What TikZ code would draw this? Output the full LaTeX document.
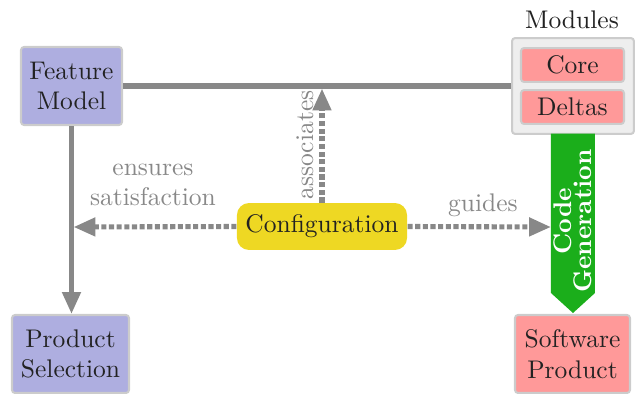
\documentclass[tikz,border=0pt]{standalone}
\usetikzlibrary{arrows.meta}
\definecolor{lav}{HTML}{AEAEE0}
\definecolor{pinkbox}{HTML}{FF9999}
\definecolor{yel}{HTML}{EED823}
\definecolor{cggreen}{HTML}{1BAE1B}
\definecolor{cont}{HTML}{EEEEEE}
\definecolor{bord}{HTML}{CCCCCC}
\definecolor{ln}{HTML}{888888}
\definecolor{txt}{HTML}{222222}
\tikzset{
  box/.style={draw=bord, line width=0.8pt, rounded corners=1.2pt, inner sep=0pt, align=center, text=txt},
  conn/.style={draw=ln, line width=2pt},
  dotconn/.style={draw=ln, line width=2pt, dash pattern=on 2pt off 1pt},
  tip/.style={-{Triangle[length=8.6pt,width=7pt]}},
  lbl/.style={text=ln, align=center}
}
\begin{document}
\begin{tikzpicture}[x=0.3922pt,y=-0.3922pt]
\useasboundingbox (0,0) rectangle (636,394);
% nodes
\node[box, fill=lav, minimum width=39.6pt, minimum height=30.6pt] (fm) at (71.5,86) {Feature\\Model};
\node[box, fill=lav, minimum width=45.9pt, minimum height=30.6pt] (ps) at (70.5,354) {Product\\Selection};
\node[box, fill=pinkbox, minimum width=45.1pt, minimum height=30.6pt] (sp) at (572.5,354) {Software\\Product};
\node[box, fill=cont, minimum width=47.8pt, minimum height=37.6pt] (mod) at (573,86) {};
\node[text=txt] (modl) at (572,20) {Modules};
\node[box, fill=pinkbox, minimum width=40.4pt, minimum height=13.3pt] (core) at (572.5,65) {Core};
\node[box, fill=pinkbox, minimum width=40.4pt, minimum height=13.3pt] (delta) at (572.5,107) {Deltas};
\node[draw=none, fill=yel, rounded corners=4.7pt, minimum width=66.7pt, minimum height=18.4pt, inner sep=0pt, text=txt] (conf) at (322,226.5) {Configuration};
% code generation arrow
\fill[cggreen] (551,133.5) -- (595,133.5) -- (595,293) -- (573,313) -- (551,293) -- cycle;
\node[rotate=90, text=white, font=\bfseries, align=center, inner sep=0pt] (cg) at (573,221) {Code\\[-4.3pt]Generation};
\coordinate (cgw) at (551,227);
\coordinate (assoc) at (322,88.5);
\coordinate (ens) at (73.5,227);
% connectors
\draw[conn] (fm.east) -- (mod.west);
\draw[conn, tip] (fm.south) -- (fm.south |- ps.north);
\draw[dotconn, tip] (conf.north) -- (assoc);
\draw[dotconn, tip] (conf.west) -- (ens);
\draw[dotconn, tip] (conf.east) -- (cgw);
% labels
\node[lbl] (l1) at (153,185) {ensures\\satisfaction};
\node[lbl] (l2) at (483,205) {guides};
\node[lbl, rotate=90] (l3) at (305,145) {associates};
\end{tikzpicture}
\end{document}
